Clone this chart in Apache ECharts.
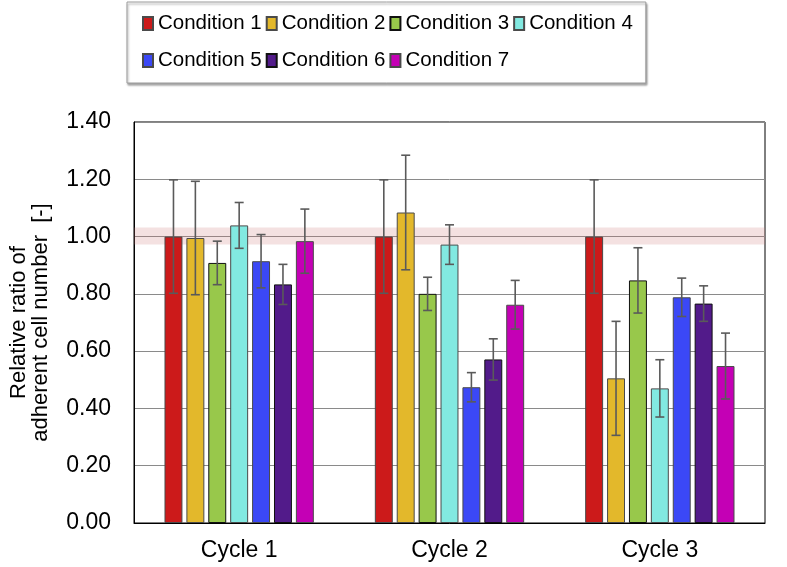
<!DOCTYPE html>
<html><head><meta charset="utf-8">
<script src="https://cdn.jsdelivr.net/npm/echarts@6/dist/echarts.min.js"></script>
<style>html,body{margin:0;padding:0;background:#fff}#c{width:787px;height:567px}</style>
</head><body><div id="c"></div>
<script>
var categories = ['Cycle 1', 'Cycle 2', 'Cycle 3'];
var conditionNames = ['Condition 1','Condition 2','Condition 3','Condition 4','Condition 5','Condition 6','Condition 7'];
var cond1 = [1.00, 1.00, 1.00];
var cond2 = [0.995, 1.084, 0.505];
var cond3 = [0.908, 0.800, 0.847];
var cond4 = [1.039, 0.972, 0.470];
var cond5 = [0.914, 0.474, 0.788];
var cond6 = [0.833, 0.571, 0.766];
var cond7 = [0.984, 0.762, 0.548];
var err1 = [0.198, 0.198, 0.198];
var err2 = [0.198, 0.200, 0.199];
var err3 = [0.076, 0.058, 0.114];
var err4 = [0.080, 0.069, 0.100];
var err5 = [0.093, 0.051, 0.067];
var err6 = [0.070, 0.072, 0.062];
var err7 = [0.112, 0.085, 0.115];
var yTicks = [0, 0.2, 0.4, 0.6, 0.8, 1.0, 1.2, 1.4];
var bandRange = [0.972, 1.032];

var values = [cond1, cond2, cond3, cond4, cond5, cond6, cond7];
var errors = [err1, err2, err3, err4, err5, err6, err7];
var colors = ['#CC1A1A', '#E3B82B', '#98C84B', '#82E9E1', '#3B48F6', '#521B8A', '#C400B5'];
var borderColors = ['#4a4a4a', '#4a4a4a', '#111111', '#4a4a4a', '#4a4a4a', '#111111', '#4a4a4a'];
var CAT_GAP = 0.29, BAR_GAP = 0.22;

var chart = echarts.init(document.getElementById('c'), null, {renderer: 'canvas'});
var series = [];
values.forEach(function (vals, i) {
  series.push({
    name: conditionNames[i], type: 'bar', data: vals,
    barCategoryGap: (CAT_GAP * 100) + '%', barGap: (BAR_GAP * 100) + '%',
    itemStyle: {color: colors[i], borderColor: borderColors[i], borderWidth: 1},
    emphasis: {disabled: true}, z: 2
  });
});
values.forEach(function (vals, i) {
  var eData = vals.map(function (v, k) { return [k, v - errors[i][k], v + errors[i][k]]; });
  series.push({
    type: 'custom', name: 'err' + i, data: eData, z: 4, silent: true,
    renderItem: function (params, api) {
      var k = api.value(0);
      var catW = api.size([1, 0])[0];
      var n = values.length;
      var total = catW * (1 - CAT_GAP);
      var bw = total / (n + (n - 1) * BAR_GAP);
      var off = -total / 2 + i * bw * (1 + BAR_GAP) + bw / 2;
      var lo = api.coord([k, api.value(1)]);
      var hi = api.coord([k, api.value(2)]);
      var x = lo[0] + off;
      var cap = 4.5;
      var st = {stroke: '#5a5a5a', lineWidth: 1.6, fill: null};
      return {type: 'group', children: [
        {type: 'line', shape: {x1: x, y1: lo[1], x2: x, y2: hi[1]}, style: st},
        {type: 'line', shape: {x1: x - cap, y1: lo[1], x2: x + cap, y2: lo[1]}, style: st},
        {type: 'line', shape: {x1: x - cap, y1: hi[1], x2: x + cap, y2: hi[1]}, style: st}
      ]};
    }
  });
});
series.push({
  type: 'line', name: 'band', data: [], z: 6, silent: true,
  markArea: {silent: true, itemStyle: {color: 'rgba(205,120,120,0.22)'},
    data: [[{yAxis: bandRange[0]}, {yAxis: bandRange[1]}]]}
});

chart.setOption({
  animation: false,
  textStyle: {fontFamily: '"Liberation Sans", Arial, sans-serif'},
  legend: {
    data: conditionNames, left: 127, top: 2, width: 492, icon: 'rect',
    padding: [5, 13, 6, 15], itemGap: 4, itemWidth: 10, itemHeight: 13,
    backgroundColor: '#fff', borderColor: '#9a9a9a', borderWidth: 1,
    shadowColor: 'rgba(0,0,0,0.35)', shadowOffsetX: 1, shadowOffsetY: 2, shadowBlur: 2,
    textStyle: {fontSize: 20.5, lineHeight: 33, color: '#000', padding: [0, 0, 0, 0]},
    selectedMode: false
  },
  grid: {left: 131, right: 22, top: 122, bottom: 44, show: true, borderColor: '#000', borderWidth: 1, containLabel: false},
  xAxis: {
    type: 'category', data: categories,
    axisLine: {lineStyle: {color: '#000', width: 1}},
    axisTick: {show: false},
    axisLabel: {fontSize: 23, color: '#000', margin: 16}
  },
  yAxis: {
    type: 'value', min: yTicks[0], max: yTicks[yTicks.length - 1], interval: 0.2,
    name: 'Relative ratio of\nadherent cell number  [-]',
    nameLocation: 'middle', nameRotate: 90, nameGap: 82,
    nameTextStyle: {fontSize: 22, lineHeight: 22, color: '#000'},
    axisLine: {show: true, lineStyle: {color: '#000'}},
    axisTick: {show: false},
    splitLine: {lineStyle: {color: '#8a8a8a', width: 1}},
    axisLabel: {fontSize: 23, color: '#000', margin: 23, formatter: function (v) { return v.toFixed(2); }}
  },
  series: series
});
</script></body></html>
